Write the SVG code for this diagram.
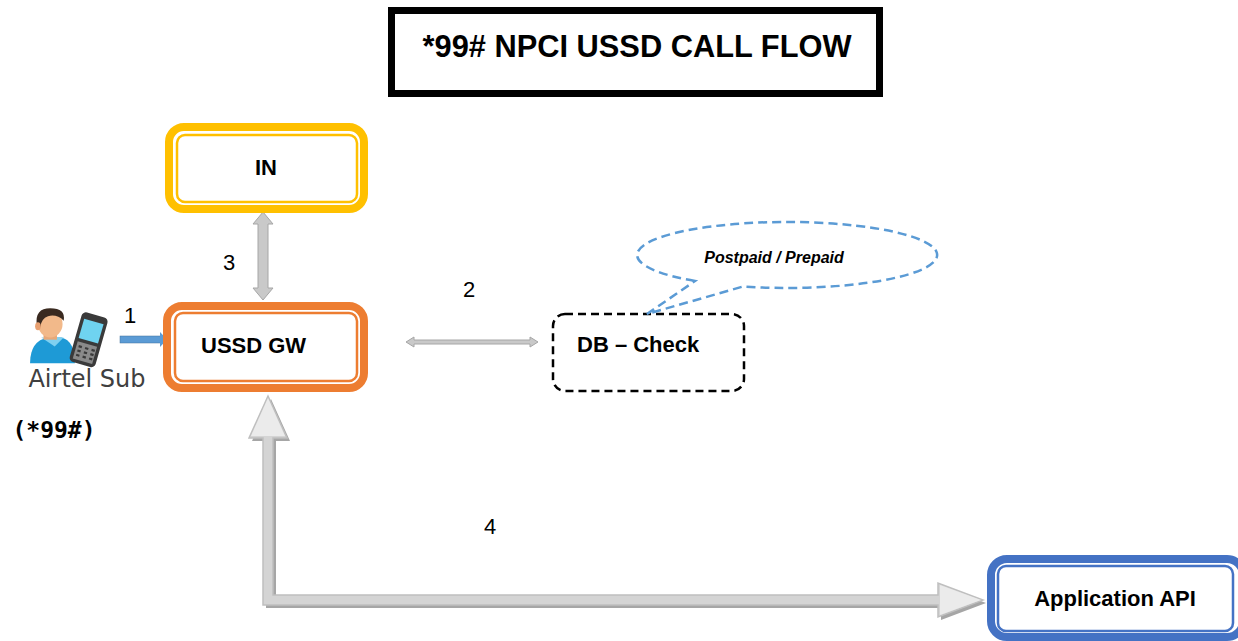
<svg xmlns="http://www.w3.org/2000/svg" width="1238" height="641" viewBox="0 0 1238 641">
<style>
.b{font-family:"Liberation Sans",Arial,sans-serif;font-weight:bold;fill:#000}
.n{font-family:"Liberation Sans",Arial,sans-serif;font-size:22px;fill:#000}
.outer{fill:#fff;stroke-width:8}
.inner{fill:none;stroke-width:2.5}
.garrow{fill:#C9C9C9;stroke:#A6A6A6;stroke-width:1}
</style>
<rect width="1238" height="641" fill="#fff"/>

<g id="title">
<rect x="391.5" y="10.5" width="488" height="83" fill="#fff" stroke="#000" stroke-width="7"/>
<text class="b" x="637" y="57" font-size="30.8" text-anchor="middle">*99# NPCI USSD CALL FLOW</text>
</g>

<g id="connectors">
<!-- 1: blue arrow -->
<rect x="120" y="336" width="41" height="7" fill="#5B9BD5" stroke="#41719C" stroke-width="0.5"/>
<polygon points="160,332 167,339.5 160,347" fill="#5B9BD5"/>
<!-- 3: IN <-> USSD GW -->
<polygon class="garrow" points="263,212 273,224 268,224 268,288 273,288 263,300 253,288 258,288 258,224 253,224"/>
<!-- 2: USSD GW <-> DB -->
<polygon class="garrow" points="406,342 414,337 414,340 530,340 530,337 538,342 530,347 530,344 414,344 414,347"/>
<!-- 4: L arrow -->
<polygon points="271,399 290,441 276,441 276,598 941,598 941,586 986,603 941,620 941,608 266,608 266,441 252,441" fill="#A6A6A6"/>
<polygon points="268,396 287,438 273,438 273,595 938,595 938,583 983,600 938,617 938,605 263,605 263,438 249,438" fill="#D4D4D4" stroke="#BFBFBF" stroke-width="1.5"/>
<polygon points="268,398 285,436 251,436" fill="#EBEBEB"/>
<polygon points="940,585 981,600 940,615" fill="#EBEBEB"/>
<text class="n" x="130" y="323" text-anchor="middle">1</text>
<text class="n" x="469" y="297" text-anchor="middle">2</text>
<text class="n" x="229" y="270" text-anchor="middle">3</text>
<text class="n" x="490" y="534" text-anchor="middle">4</text>
</g>

<g id="node-in">
<rect class="outer" x="169" y="127" width="195" height="82" rx="15" stroke="#FFC000"/>
<rect class="inner" x="177" y="135" width="180" height="67" rx="8" stroke="#FFC000"/>
<text class="b" x="266" y="175" font-size="22" text-anchor="middle">IN</text>
</g>

<g id="node-ussdgw">
<rect class="outer" x="167" y="306" width="197" height="82" rx="15" stroke="#ED7D31"/>
<rect class="inner" x="175" y="313" width="182" height="68" rx="8" stroke="#ED7D31"/>
<text class="b" x="201" y="353" font-size="22">USSD GW</text>
</g>

<g id="node-db">
<rect x="553" y="314" width="191" height="77" rx="12" fill="#fff" stroke="#000" stroke-width="2.5" stroke-dasharray="8 5"/>
<text class="b" x="577" y="352" font-size="22">DB – Check</text>
</g>

<g id="callout">
<path d="M695,281 A150,33 0 1 1 743,286.5 L647,314 Z" fill="#fff" stroke="#5B9BD5" stroke-width="2.5" stroke-dasharray="9 5"/>
<text class="b" x="774" y="263" font-size="16" font-style="italic" text-anchor="middle">Postpaid / Prepaid</text>
</g>

<g id="node-app">
<rect class="outer" x="991" y="559" width="252" height="78" rx="16" stroke="#4472C4"/>
<rect class="inner" x="998" y="566" width="235" height="65" rx="8" stroke="#4472C4"/>
<text class="b" x="1115" y="606" font-size="22" text-anchor="middle">Application API</text>
</g>

<g id="node-airtel">
<g transform="translate(-8,-40) scale(1.12)">
<!-- person -->
<path d="M34,360 Q34,340 50,337 L62,337 Q74,340 74,360 Z" fill="#1E9AD6"/>
<path d="M44,337 L56,345 L64,337 Z" fill="#7fd0f0"/>
<rect x="46" y="330" width="12" height="9" fill="#E8A878"/>
<ellipse cx="52" cy="325" rx="11" ry="12" fill="#F2B98A"/>
<path d="M40,326 Q38,311 52,311 Q66,311 64,322 Q58,316 50,318 Q44,320 43,328 Z" fill="#3a2a20"/>
<ellipse cx="41" cy="327" rx="2.5" ry="3.5" fill="#E8A070"/>
<!-- phone -->
<g transform="rotate(16 86 340)">
<rect x="74" y="316" width="24" height="46" rx="4" fill="#3a3a3a"/>
<rect x="77" y="322" width="18" height="18" fill="#6FD3F0"/>
<rect x="77" y="343" width="18" height="16" fill="#8a8a8a"/>
<g fill="#3a3a3a">
<rect x="79" y="346" width="3" height="2"/><rect x="85" y="346" width="3" height="2"/><rect x="91" y="346" width="3" height="2"/>
<rect x="79" y="350" width="3" height="2"/><rect x="85" y="350" width="3" height="2"/><rect x="91" y="350" width="3" height="2"/>
<rect x="79" y="354" width="3" height="2"/><rect x="85" y="354" width="3" height="2"/><rect x="91" y="354" width="3" height="2"/>
</g>
</g>
</g>
<text x="87" y="387" font-family="DejaVu Sans,Verdana,sans-serif" font-size="24" fill="#404040" text-anchor="middle">Airtel Sub</text>
<text x="54" y="438" font-family="DejaVu Sans Mono,Liberation Mono,monospace" font-weight="bold" font-size="23" fill="#000" text-anchor="middle">(*99#)</text>
</g>
</svg>
